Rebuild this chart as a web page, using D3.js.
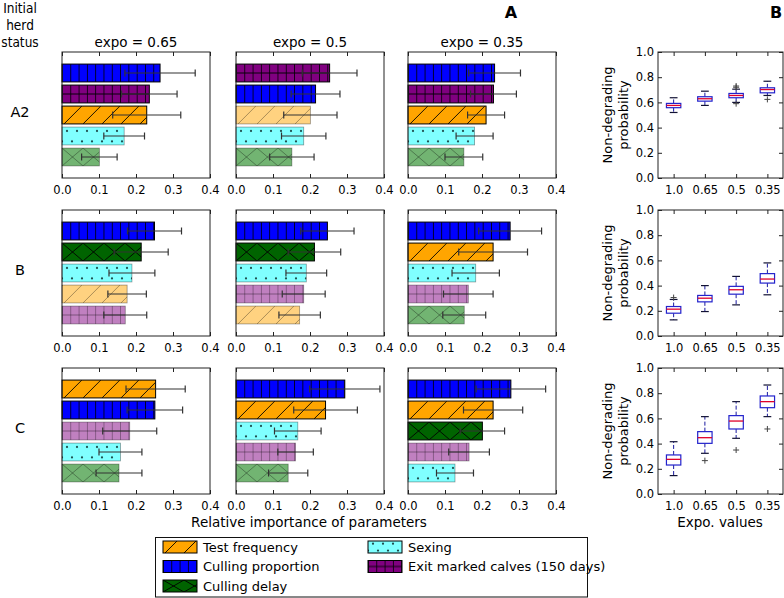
<!DOCTYPE html>
<html><head><meta charset="utf-8">
<script src="https://cdn.jsdelivr.net/npm/d3@7"></script>
<style>
body{margin:0;background:#fff}
svg{display:block}
text{font-family:"DejaVu Sans",sans-serif;fill:#000}
</style>
</head><body><svg id="c" width="784" height="598"></svg>
<script>
// ---------------- DATA ----------------
const statuses = ["A2", "B", "C"];
const expoTitles = ["expo = 0.65", "expo = 0.5", "expo = 0.35"];
const xTicks = [0, 0.1, 0.2, 0.3, 0.4];
const paramKeys = ["TF", "CP", "CD", "SX", "EM"];
const paramNames = ["Test frequency", "Culling proportion", "Culling delay", "Sexing", "Exit marked calves (150 days)"];

// panels in reading order: row (A2,B,C) x column (0.65,0.5,0.35); bars listed top to bottom
const panelParams = [
  ["CP", "EM", "TF", "SX", "CD"],
  ["EM", "CP", "TF", "SX", "CD"],
  ["CP", "EM", "TF", "SX", "CD"],
  ["CP", "CD", "SX", "TF", "EM"],
  ["CP", "CD", "SX", "EM", "TF"],
  ["CP", "TF", "SX", "EM", "CD"],
  ["TF", "CP", "EM", "SX", "CD"],
  ["CP", "TF", "SX", "EM", "CD"],
  ["CP", "TF", "CD", "EM", "SX"]
];
const panelValues = [
  [0.265, 0.236, 0.229, 0.168, 0.101],
  [0.253, 0.215, 0.201, 0.183, 0.151],
  [0.234, 0.231, 0.211, 0.180, 0.151],
  [0.250, 0.214, 0.189, 0.176, 0.171],
  [0.247, 0.212, 0.190, 0.183, 0.172],
  [0.276, 0.230, 0.183, 0.163, 0.152],
  [0.253, 0.251, 0.183, 0.158, 0.154],
  [0.294, 0.242, 0.167, 0.161, 0.141],
  [0.278, 0.230, 0.201, 0.165, 0.127]
];
const panelErrors = [
  [0.095, 0.075, 0.092, 0.055, 0.048],
  [0.074, 0.066, 0.072, 0.060, 0.060],
  [0.070, 0.062, 0.050, 0.050, 0.051],
  [0.073, 0.073, 0.062, 0.052, 0.058],
  [0.072, 0.071, 0.055, 0.058, 0.056],
  [0.085, 0.093, 0.064, 0.067, 0.058],
  [0.080, 0.075, 0.073, 0.058, 0.062],
  [0.095, 0.086, 0.063, 0.048, 0.053],
  [0.094, 0.080, 0.060, 0.055, 0.050]
];
// 1 = significant (full colour), 0 = faded
const panelBold = [
  [1, 1, 1, 0, 0],
  [1, 1, 0, 0, 0],
  [1, 1, 1, 0, 0],
  [1, 1, 0, 0, 0],
  [1, 1, 0, 0, 0],
  [1, 1, 0, 0, 0],
  [1, 1, 0, 0, 0],
  [1, 1, 0, 0, 0],
  [1, 1, 1, 0, 0]
];

const boxLabels = ["1.0", "0.65", "0.5", "0.35"];
const boxTicks = [0, 0.2, 0.4, 0.6, 0.8, 1.0];
// [whisker low, q1, median, q3, whisker high] per expo value
const boxStatsA2 = [[0.520, 0.558, 0.576, 0.592, 0.637], [0.576, 0.610, 0.629, 0.645, 0.689], [0.600, 0.637, 0.655, 0.671, 0.705], [0.655, 0.676, 0.702, 0.716, 0.768]];
const boxStatsB  = [[0.128, 0.181, 0.213, 0.234, 0.290], [0.194, 0.271, 0.300, 0.322, 0.400], [0.247, 0.332, 0.367, 0.394, 0.473], [0.327, 0.420, 0.452, 0.495, 0.580]];
const boxStatsC  = [[0.146, 0.230, 0.275, 0.310, 0.415], [0.323, 0.402, 0.447, 0.495, 0.614], [0.442, 0.516, 0.579, 0.622, 0.733], [0.614, 0.685, 0.733, 0.778, 0.865]];
const boxFliersA2 = [[], [], [0.72, 0.73, 0.59], [0.624]];
const boxFliersB  = [[0.305], [], [], []];
const boxFliersC  = [[], [0.265], [0.349], [0.516]];

// ---------------- STYLE ----------------
const colorBold = {TF: "#FFA500", CP: "#0000FF", CD: "#006400", SX: "#80FFFF", EM: "#800080"};
const colorFaded = {TF: "#FFD280", CP: "#8080FF", CD: "#72B472", SX: "#80FFFF", EM: "#C080C0"};

const svg = d3.select("#c");
const defs = svg.append("defs");
const barLeft = [62, 236, 408], barW = 148;
const rowTop = [52, 210, 368], rowH = 126;
const boxLeft = 658, boxW = 125;

function makeHatch(id, key, bold, x0, y0, h) {
  const fill = bold ? colorBold[key] : colorFaded[key];
  const ink = bold ? "#000" : "rgba(0,0,0,0.42)";
  const sw = bold ? 0.9 : 0.8;
  const p = defs.append("pattern").attr("id", id).attr("patternUnits", "userSpaceOnUse")
    .attr("x", x0).attr("y", y0).attr("height", h);
  let pw;
  if (key === "CP" || key === "EM") pw = 8.3;
  else if (key === "SX") pw = 10;
  else if (key === "CD") pw = 21;
  else pw = 19;
  p.attr("width", pw);
  p.append("rect").attr("width", pw).attr("height", h).attr("fill", fill);
  const g = p.append("g").attr("stroke", ink).attr("stroke-width", sw).attr("fill", "none");
  if (key === "CP" || key === "EM") {
    g.append("line").attr("x1", 0.4).attr("x2", 0.4).attr("y1", 0).attr("y2", h);
    if (key === "EM") g.append("line").attr("x1", 0).attr("x2", pw).attr("y1", h / 2).attr("y2", h / 2);
  } else if (key === "CD") {
    g.append("line").attr("x1", 0).attr("y1", h).attr("x2", pw).attr("y2", 0);
    g.append("line").attr("x1", 0).attr("y1", 0).attr("x2", pw).attr("y2", h);
  } else if (key === "TF") {
    [-1, 0].forEach(k => g.append("line").attr("x1", k * pw + 2).attr("y1", h).attr("x2", k * pw + 2 + h).attr("y2", 0));
  } else if (key === "SX") {
    const dc = "#1d4a4a";
    p.append("circle").attr("cx", 5).attr("cy", h * 0.22).attr("r", 1.1).attr("fill", dc);
    p.append("circle").attr("cx", 0).attr("cy", h * 0.8).attr("r", 1.1).attr("fill", dc);
    p.append("circle").attr("cx", pw).attr("cy", h * 0.8).attr("r", 1.1).attr("fill", dc);
  }
  return `url(#${id})`;
}

// ---------------- TEXT HEADERS ----------------
["Initial", "herd", "status"].forEach((t, i) => {
  svg.append("text").attr("transform", `translate(20,${13 + i * 17}) scale(0.84,1)`).attr("text-anchor", "middle")
    .attr("font-size", 14.5).text(t);
});
svg.append("text").attr("x", 511).attr("y", 18).attr("text-anchor", "middle")
  .attr("font-size", 16).attr("font-weight", "bold").text("A");
svg.append("text").attr("x", 776).attr("y", 18).attr("text-anchor", "middle")
  .attr("font-size", 16).attr("font-weight", "bold").text("B");

expoTitles.forEach((t, c) => {
  svg.append("text").attr("x", barLeft[c] + barW / 2).attr("y", 47).attr("text-anchor", "middle")
    .attr("font-size", 13.5).text(t);
});
statuses.forEach((s, r) => {
  svg.append("text").attr("x", 20).attr("y", rowTop[r] + rowH / 2 + 2).attr("text-anchor", "middle")
    .attr("font-size", 14.5).text(s);
});

// ---------------- BAR PANELS ----------------
for (let r = 0; r < 3; r++) {
  for (let c = 0; c < 3; c++) {
    const pi = r * 3 + c;
    const x = d3.scaleLinear().domain([0, 0.4]).range([barLeft[c], barLeft[c] + barW]);
    const y = d3.scaleLinear().domain([-1, 5]).range([rowTop[r], rowTop[r] + rowH]);
    const bh = (y(1) - y(0)) * 0.85;
    const g = svg.append("g");
    const data = panelParams[pi].map((k, i) => ({k, i, v: panelValues[pi][i], e: panelErrors[pi][i], b: panelBold[pi][i]}));
    data.forEach(d => {
      const y0 = y(d.i) - bh / 2;
      const fill = makeHatch(`h${pi}_${d.i}`, d.k, d.b, x(0), y0, bh);
      g.append("rect").attr("x", x(0)).attr("y", y0).attr("width", x(d.v) - x(0)).attr("height", bh)
        .attr("fill", fill)
        .attr("stroke", d.b ? "#000" : "rgba(0,0,0,0.4)").attr("stroke-width", d.b ? 1 : 0.8);
    });
    // error bars
    const eg = g.append("g").attr("stroke", "#333").attr("stroke-width", 1.2);
    data.forEach(d => {
      const cy = y(d.i);
      eg.append("line").attr("x1", x(d.v - d.e)).attr("x2", x(d.v + d.e)).attr("y1", cy).attr("y2", cy);
      [d.v - d.e, d.v + d.e].forEach(vv => eg.append("line").attr("x1", x(vv)).attr("x2", x(vv)).attr("y1", cy - 3.5).attr("y2", cy + 3.5));
    });
    // axes
    const bottom = rowTop[r] + rowH;
    const ax = svg.append("g").attr("transform", `translate(0,${bottom})`)
      .call(d3.axisBottom(x).tickValues(xTicks).tickFormat(d3.format(".1f")).tickSizeInner(-4).tickSizeOuter(0).tickPadding(8));
    ax.select(".domain").remove();
    ax.selectAll("text").attr("font-size", 11.5).attr("font-family", "DejaVu Sans");
    ax.selectAll("line").attr("stroke", "#222");
    const at = svg.append("g").attr("transform", `translate(0,${rowTop[r]})`)
      .call(d3.axisTop(x).tickValues(xTicks).tickFormat("").tickSizeInner(-4).tickSizeOuter(0));
    at.select(".domain").remove();
    at.selectAll("line").attr("stroke", "#222");
    svg.append("rect").attr("x", barLeft[c]).attr("y", rowTop[r]).attr("width", barW).attr("height", rowH)
      .attr("fill", "none").attr("stroke", "#222").attr("stroke-width", 1);
  }
}
svg.append("text").attr("x", 309).attr("y", 527).attr("text-anchor", "middle")
  .attr("font-size", 13.5).text("Relative importance of parameters");

// ---------------- BOX PLOTS ----------------
const boxStatsAll = [boxStatsA2, boxStatsB, boxStatsC];
const boxFliersAll = [boxFliersA2, boxFliersB, boxFliersC];
for (let r = 0; r < 3; r++) {
  const x = d3.scaleLinear().domain([0.5, 4.5]).range([boxLeft, boxLeft + boxW]);
  const y = d3.scaleLinear().domain([0, 1]).range([rowTop[r] + rowH, rowTop[r]]);
  const g = svg.append("g");
  const bw = (x(1) - x(0)) * 0.46, cw = (x(1) - x(0)) * 0.25;
  boxStatsAll[r].forEach((s, i) => {
    const cx = x(i + 1);
    const [lo, q1, md, q3, hi] = s;
    g.append("line").attr("x1", cx).attr("x2", cx).attr("y1", y(q3)).attr("y2", y(hi))
      .attr("stroke", "#1a1aa0").attr("stroke-width", 1).attr("stroke-dasharray", "4,2");
    g.append("line").attr("x1", cx).attr("x2", cx).attr("y1", y(q1)).attr("y2", y(lo))
      .attr("stroke", "#1a1aa0").attr("stroke-width", 1).attr("stroke-dasharray", "4,2");
    [lo, hi].forEach(v => g.append("line").attr("x1", cx - cw / 2).attr("x2", cx + cw / 2).attr("y1", y(v)).attr("y2", y(v))
      .attr("stroke", "#111133").attr("stroke-width", 1.2));
    g.append("rect").attr("x", cx - bw / 2).attr("y", y(q3)).attr("width", bw).attr("height", y(q1) - y(q3))
      .attr("fill", "#fff").attr("stroke", "#2222cc").attr("stroke-width", 1.2);
    g.append("line").attr("x1", cx - bw / 2).attr("x2", cx + bw / 2).attr("y1", y(md)).attr("y2", y(md))
      .attr("stroke", "#e0002a").attr("stroke-width", 1.3);
    boxFliersAll[r][i].forEach(v => {
      g.append("path").attr("d", `M${cx - 3},${y(v)}h6M${cx},${y(v) - 3}v6`).attr("stroke", "#444").attr("stroke-width", 1);
    });
  });
  const bottom = rowTop[r] + rowH;
  const ax = svg.append("g").attr("transform", `translate(0,${bottom})`)
    .call(d3.axisBottom(x).tickValues([1, 2, 3, 4]).tickFormat((d, i) => boxLabels[i]).tickSizeInner(-4).tickSizeOuter(0).tickPadding(8));
  ax.select(".domain").remove();
  ax.selectAll("text").attr("font-size", 11.5).attr("font-family", "DejaVu Sans");
  ax.selectAll("line").attr("stroke", "#222");
  const at = svg.append("g").attr("transform", `translate(0,${rowTop[r]})`)
    .call(d3.axisTop(x).tickValues([1, 2, 3, 4]).tickFormat("").tickSizeInner(-4).tickSizeOuter(0));
  at.select(".domain").remove();
  at.selectAll("line").attr("stroke", "#222");
  const al = svg.append("g").attr("transform", `translate(${boxLeft},0)`)
    .call(d3.axisLeft(y).tickValues(boxTicks).tickFormat(d3.format(".1f")).tickSizeInner(-4).tickSizeOuter(0).tickPadding(4));
  al.select(".domain").remove();
  al.selectAll("text").attr("font-size", 11.5).attr("font-family", "DejaVu Sans");
  al.selectAll("line").attr("stroke", "#222");
  const ar = svg.append("g").attr("transform", `translate(${boxLeft + boxW},0)`)
    .call(d3.axisRight(y).tickValues(boxTicks).tickFormat("").tickSizeInner(-4).tickSizeOuter(0));
  ar.select(".domain").remove();
  ar.selectAll("line").attr("stroke", "#222");
  svg.append("rect").attr("x", boxLeft).attr("y", rowTop[r]).attr("width", boxW).attr("height", rowH)
    .attr("fill", "none").attr("stroke", "#222").attr("stroke-width", 1);
  const cy = rowTop[r] + rowH / 2;
  svg.append("text").attr("transform", `translate(612,${cy}) rotate(-90)`).attr("text-anchor", "middle")
    .attr("font-size", 13).text("Non-degrading");
  svg.append("text").attr("transform", `translate(628,${cy}) rotate(-90)`).attr("text-anchor", "middle")
    .attr("font-size", 13).text("probability");
}
svg.append("text").attr("x", 720).attr("y", 527).attr("text-anchor", "middle")
  .attr("font-size", 13.5).text("Expo. values");

// ---------------- LEGEND ----------------
svg.append("rect").attr("x", 155.5).attr("y", 537.5).attr("width", 432).attr("height", 59.5)
  .attr("fill", "#fff").attr("stroke", "#111").attr("stroke-width", 1);
const legendPos = [[163, 547], [163, 566.5], [163, 586], [368, 547], [368, 566.5]];
paramKeys.forEach((k, i) => {
  const [lx, ly] = legendPos[i];
  const sh = 12;
  const fill = makeHatch(`leg_${k}`, k, k !== "SX", lx, ly - sh / 2, sh);
  svg.append("rect").attr("x", lx).attr("y", ly - sh / 2).attr("width", 34).attr("height", sh)
    .attr("fill", fill).attr("stroke", "#000").attr("stroke-width", 1);
  svg.append("text").attr("x", lx + 40).attr("y", ly).attr("dy", "0.35em")
    .attr("font-size", 13).text(paramNames[i]);
});
</script>
</body></html>
